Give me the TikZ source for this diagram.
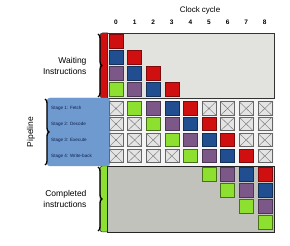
\documentclass[tikz,border=0pt]{standalone}
\usepackage{fontspec}
\setmainfont{Liberation Sans}
\usetikzlibrary{decorations.pathreplacing}
\definecolor{cred}{HTML}{D01010}
\definecolor{cblue}{HTML}{204E90}
\definecolor{cpurple}{HTML}{7B5888}
\definecolor{cgreen}{HTML}{8EE030}
\definecolor{wgray}{HTML}{E2E2DE}
\definecolor{cgray}{HTML}{C2C2BC}
\definecolor{xgray}{HTML}{E4E4E4}
\definecolor{stageblue}{HTML}{6E9AD0}
\definecolor{navy}{HTML}{10204A}
\begin{document}
\begin{tikzpicture}[x=1pt,y=-1pt,
  sq/.style={minimum width=14pt,minimum height=13.5pt,inner sep=0pt,line width=0.5pt},
  rsq/.style={sq,fill=cred,draw=cred!60!black},
  bsq/.style={sq,fill=cblue,draw=cblue!60!black},
  psq/.style={sq,fill=cpurple,draw=cpurple!60!black},
  gsq/.style={sq,fill=cgreen,draw=cgreen!50!black},
  xsq/.style={sq,fill=xgray,draw=black!60,
    path picture={\draw[black!55,line width=0.4pt] (path picture bounding box.north west)--(path picture bounding box.south east)
      (path picture bounding box.south west)--(path picture bounding box.north east);}},
  lbl/.style={font=\fontsize{8.5}{10.5}\selectfont,align=right,anchor=east},
  stg/.style={font=\fontsize{4.6}{5}\selectfont,text=navy,anchor=west,inner sep=0pt},
  brc/.style={decorate,decoration={brace,amplitude=4pt},line width=1.3pt},
  bar/.style={rounded corners=2.5pt,draw=black!80,line width=0.5pt}
]
\useasboundingbox (0,0) rectangle (290,246);
% colored bars
\draw[bar,fill=cred] (100,33) rectangle (110,98);
\draw[bar,fill=cgreen] (100,166) rectangle (110,232);
% boxes
\draw[fill=wgray,draw=black!80,line width=0.6pt] (107,33) rectangle (274,98);
\fill[white!96!black] (107,98) rectangle (274,166);
\draw[fill=cgray,draw=black!85,line width=0.7pt] (107,166) rectangle (274,232);
\draw[black!80,line width=0.6pt] (107,98) -- (274,98);
\draw[stageblue,fill=stageblue,rounded corners=3pt] (47,98) rectangle (110,166);
\fill[stageblue] (100,98) rectangle (107,166);
% header
\node[font=\fontsize{8}{9}\selectfont] (cc) at (200,10) {Clock cycle};
\foreach \i in {0,...,8}{
  \node[font=\bfseries\fontsize{6.5}{7}\selectfont] (n\i) at (116+18.6*\i,22) {\i};
}
% labels
\node[lbl] (wait) at (90,66) {Waiting\\Instructions};
\node[lbl] (comp) at (90,199) {Completed\\instructions};
\node[font=\fontsize{8.5}{10}\selectfont,rotate=90] (pipe) at (31,132) {Pipeline};
\node[stg] (s1) at (51,108.5) {Stage 1: Fetch};
\node[stg] (s2) at (51,124) {Stage 2: Decode};
\node[stg] (s3) at (51,140) {Stage 3: Execute};
\node[stg] (s4) at (51,156) {Stage 4: Write-back};
% braces
\draw[brc] (98,34) -- (98,97);
\draw[brc] (45,99) -- (45,165);
\draw[brc] (98,167) -- (98,231);
% waiting squares
\foreach \c/\r/\s in {0/0/rsq,0/1/bsq,1/1/rsq,0/2/psq,1/2/bsq,2/2/rsq,0/3/gsq,1/3/psq,2/3/bsq,3/3/rsq}{
  \node[\s] (w\c\r) at (116+18.6*\c,41.5+16*\r) {};
}
% pipeline squares
\foreach \r/\y/\row in {0/108.5/{xsq,gsq,psq,bsq,rsq,xsq,xsq,xsq,xsq},
                         1/124/{xsq,xsq,gsq,psq,bsq,rsq,xsq,xsq,xsq},
                         2/140/{xsq,xsq,xsq,gsq,psq,bsq,rsq,xsq,xsq},
                         3/156/{xsq,xsq,xsq,xsq,gsq,psq,bsq,rsq,xsq}}{
  \foreach \s [count=\k from 0] in \row {
    \node[\s] (p\k\r) at (116+18.6*\k,\y) {};
  }
}
% completed squares
\foreach \c/\r/\s in {5/0/gsq,6/0/psq,7/0/bsq,8/0/rsq,6/1/gsq,7/1/psq,8/1/bsq,7/2/gsq,8/2/psq,8/3/gsq}{
  \node[\s] (c\c\r) at (116+18.6*\c,174.5+16*\r) {};
}
\end{tikzpicture}
\end{document}
